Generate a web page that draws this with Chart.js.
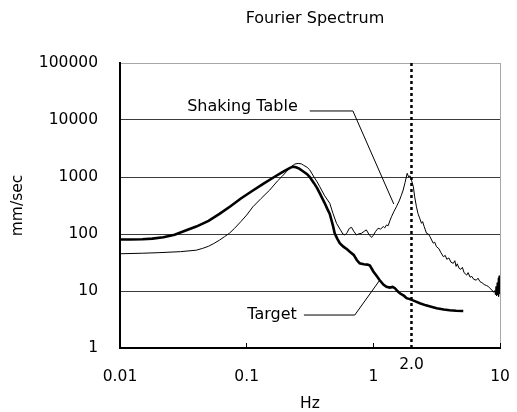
<!DOCTYPE html>
<html>
<head>
<meta charset="utf-8">
<script src="https://cdn.jsdelivr.net/npm/chart.js@4/dist/chart.umd.min.js"></script>
<style>
  html, body { margin: 0; padding: 0; background: #fff; }
  #wrap { width: 517px; height: 412px; }
</style>
</head>
<body>
<div id="wrap"><canvas id="c" width="517" height="412"></canvas></div>
<script>
// ---- data ----
const chartTitle = 'Fourier Spectrum';
const xTitle = 'Hz';
const yTitle = 'mm/sec';
const xTicks = [0.01, 0.1, 1, 10];
const xTickLabels = ['0.01', '0.1', '1', '10'];
const yTicks = [1, 10, 100, 1000, 10000, 100000];
const yTickLabels = ['1', '10', '100', '1000', '10000', '100000'];
const markerHz = 2.0;
const markerLabel = '2.0';

const targetHz  = [0.01,0.012,0.015,0.018,0.022,0.027,0.033,0.04,0.05,0.061,0.075,0.09,0.112,0.135,0.165,0.19,0.206,0.22,0.232,0.245,0.26,0.28,0.3,0.315,0.34,0.36,0.378,0.41,0.435,0.453,0.48,0.496,0.52,0.543,0.58,0.62,0.652,0.7,0.74,0.78,0.84,0.9,0.94,1.0,1.06,1.12,1.2,1.27,1.35,1.42,1.48,1.55,1.62,1.75,1.83,1.94,2.1,2.33,2.6,3.16,3.6,4.0,4.5,5.13];
const targetVal = [80,80,81,83,88,97,115,135,170,225,310,420,580,760,1000,1200,1330,1450,1520,1480,1400,1250,1120,1000,780,640,515,360,270,225,140,102,82,69,60,54,49,43,35,30.6,29.5,29,28,22,18.5,15.6,13,11.9,11.5,11.8,11.2,10,9.1,8.2,7.5,7.2,6.7,6.1,5.6,5.0,4.75,4.6,4.5,4.45];

const tableHz  = [0.01,0.015,0.02,0.03,0.04,0.045,0.05,0.055,0.061,0.067,0.073,0.08,0.09,0.1,0.112,0.13,0.152,0.175,0.19,0.206,0.225,0.24,0.255,0.27,0.28,0.3,0.315,0.34,0.36,0.378,0.41,0.453,0.48,0.512,0.55,0.575,0.596,0.62,0.645,0.673,0.7,0.736,0.76,0.807,0.85,0.88,0.92,0.968,1.0,1.04,1.09,1.14,1.2,1.23,1.27,1.31,1.35,1.39,1.45,1.52,1.6,1.66,1.72,1.78,1.85,1.9,1.95,2.0,2.07,2.12,2.19,2.25,2.32,2.4,2.45,2.52,2.63,2.72,2.8,2.97,3.05,3.15,3.3,3.4,3.57,3.7,3.8,3.95,4.1,4.28,4.4,4.5,4.6,4.75,4.9,5.05,5.2,5.46,5.6,5.8,6.0,6.2,6.5,6.7,6.95,7.2,7.5,7.8,8.1,8.34,8.6,8.9,9.1,9.2,9.3,9.4,9.5,9.6,9.7,9.75,9.85,9.9,10.0];
const tableVal = [45,46,47,49,52,56,61,68,78,90,103,125,165,215,300,420,590,850,1020,1240,1520,1690,1730,1700,1620,1480,1330,1000,820,675,480,346,230,154,118,100,96,105,125,131,112,96,100,103,112,118,100,87,95,110,126,122,135,128,144,140,170,200,245,300,380,470,590,800,1160,1000,1050,880,676,450,300,230,190,154,165,135,103,100,90,69,72,60,55,48,40,42,36,38,32,30.6,34,27,30,25,24,26,21,19,21,17.5,18,16,15.5,16.8,14.6,14,13,12.5,12,11.1,10.5,9.5,10.2,8.6,12,8.2,14,8.5,17,8,18.5,9,17];

// annotation labels (anchored in data space)
const tableLabel = 'Shaking Table';
const tableLabelAt = { x: 0.253, y: 16900 };
const tableLeader = [{x:0.315,y:14400},{x:0.69,y:14400},{x:1.45,y:336}];
const targetLabel = 'Target';
const targetLabelAt = { x: 0.249, y: 3.79 };
const targetLeader = [{x:0.283,y:3.79},{x:0.714,y:3.79},{x:1.126,y:15.6}];

const FONT = 'DejaVu Sans';
const pts = (xs, ys) => xs.map((x, i) => ({ x: x, y: ys[i] }));

const textPlugin = {
  id: 'texts',
  afterDatasetsDraw(chart) {
    const { ctx, chartArea, scales } = chart;
    const xs = scales.x, ys = scales.y;
    ctx.save();
    ctx.fillStyle = '#000';
    // title
    ctx.font = '16px "' + FONT + '"';
    ctx.textAlign = 'center';
    ctx.textBaseline = 'middle';
    ctx.fillText(chartTitle, (chartArea.left + chartArea.right) / 2 + 5, 19);
    // marker label
    ctx.font = '15.5px "' + FONT + '"';
    ctx.fillText(markerLabel, xs.getPixelForValue(markerHz), chartArea.bottom + 17);
    // series labels
    ctx.font = '16px "' + FONT + '"';
    ctx.textAlign = 'right';
    ctx.fillText(tableLabel, xs.getPixelForValue(tableLabelAt.x), ys.getPixelForValue(tableLabelAt.y));
    ctx.fillText(targetLabel, xs.getPixelForValue(targetLabelAt.x), ys.getPixelForValue(targetLabelAt.y));
    ctx.restore();
  }
};

new Chart(document.getElementById('c'), {
  type: 'line',
  data: {
    datasets: [
      { label: 'Shaking Table', data: pts(tableHz, tableVal), borderColor: '#000', borderWidth: 1, pointRadius: 0, tension: 0, fill: false },
      { label: 'Target', data: pts(targetHz, targetVal), borderColor: '#000', borderWidth: 2.6, pointRadius: 0, tension: 0, fill: false },
      { label: 'marker', data: [{x: markerHz, y: yTicks[0]}, {x: markerHz, y: yTicks[yTicks.length - 1]}], borderColor: '#000', borderWidth: 2.5, borderDash: [3, 3], pointRadius: 0 },
      { label: 'tableLeader', data: tableLeader, borderColor: '#000', borderWidth: 1, pointRadius: 0, tension: 0 },
      { label: 'targetLeader', data: targetLeader, borderColor: '#000', borderWidth: 1, pointRadius: 0, tension: 0 }
    ]
  },
  options: {
    responsive: false,
    animation: false,
    devicePixelRatio: 1,
    layout: { padding: { top: 63, right: 17, bottom: 0, left: 0 } },
    plugins: { legend: { display: false }, tooltip: { enabled: false }, title: { display: false } },
    scales: {
      x: {
        type: 'logarithmic',
        min: xTicks[0], max: xTicks[xTicks.length - 1],
        afterBuildTicks: s => { s.ticks = xTicks.map(v => ({ value: v })); },
        afterFit: s => { s.height = 64; s.paddingLeft = 0; s.paddingRight = 0; },
        ticks: {
          autoSkip: false, maxRotation: 0, padding: 25, color: '#000',
          font: { family: FONT, size: 15.5 },
          callback: (v) => { const i = xTicks.indexOf(v); return i >= 0 ? xTickLabels[i] : ''; }
        },
        grid: {
          drawTicks: true,
          tickLength: -5,
          tickColor: '#000',
          tickWidth: 1,
          color: c => (c.tick && c.tick.value === xTicks[xTicks.length - 1]) ? '#a8a8a8' : 'rgba(0,0,0,0)',
          lineWidth: 1
        },
        border: { display: true, color: '#000', width: 2 },
        title: { display: true, text: xTitle, color: '#000', font: { family: FONT, size: 15.5, lineHeight: 1 }, padding: { top: 0, bottom: 0 } }
      },
      y: {
        type: 'logarithmic',
        min: yTicks[0], max: yTicks[yTicks.length - 1],
        afterBuildTicks: s => { s.ticks = yTicks.map(v => ({ value: v })); },
        afterFit: s => { s.width = 120; s.paddingTop = 0; s.paddingBottom = 0; },
        ticks: {
          autoSkip: false, padding: 22, color: '#000',
          font: { family: FONT, size: 15.5 },
          callback: (v) => { const i = yTicks.indexOf(v); return i >= 0 ? yTickLabels[i] : ''; }
        },
        grid: {
          drawTicks: false,
          color: c => (c.tick && c.tick.value === yTicks[yTicks.length - 1]) ? '#a8a8a8' : '#3a3a3a',
          lineWidth: 1
        },
        border: { display: true, color: '#000', width: 2 },
        title: { display: true, text: yTitle, color: '#000', font: { family: FONT, size: 15.5, lineHeight: 1 }, padding: { top: 10, bottom: 0 } }
      }
    }
  },
  plugins: [textPlugin]
});
</script>
</body>
</html>
